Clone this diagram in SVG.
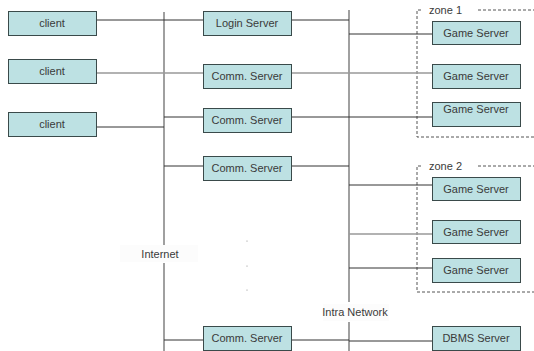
<svg xmlns="http://www.w3.org/2000/svg" width="534" height="351" viewBox="0 0 534 351">
<style>
.box{fill:#bde1e3;stroke:#3a4a4a;stroke-width:1}
.t{font-family:"Liberation Sans",Arial,sans-serif;font-size:11px;fill:#3a3a3a;text-anchor:middle}
.lbl{font-family:"Liberation Sans",Arial,sans-serif;font-size:11px;fill:#3a3a3a}
.d{stroke:#333;stroke-width:1;fill:none}
.g{stroke:#999;stroke-width:1.5;fill:none}
.v{stroke:#a0a0a0;stroke-width:2;fill:none}
.z{stroke:#555;stroke-width:1;stroke-dasharray:3,2;fill:none}
</style>
<rect width="534" height="351" fill="#fff"/>
<g id="zones">
<path class="z" d="M421,10 H417 V137 H534"/>
<path class="z" d="M478,10 H534"/>
<text class="lbl" x="429" y="14">zone 1</text>
<path class="z" d="M421,166 H417 V292 H534"/>
<path class="z" d="M478,166 H534"/>
<text class="lbl" x="429" y="170">zone 2</text>
</g>
<g id="connectors">
<path class="v" d="M164,12 V245 M164,263 V351"/>
<path class="v" d="M349,10 V302 M349,322 V351"/>
<path class="d" d="M96,20 H203 M292,20 H349"/>
<path class="g" d="M96,73 H203 M292,73 H349"/>
<path class="d" d="M96,127 H164"/>
<path class="d" d="M164,117 H203 M292,117 H349"/>
<path class="d" d="M164,166 H203 M292,166 H349"/>
<path class="d" d="M164,340 H203 M292,340 H349"/>
<path class="d" d="M349,34 H432"/>
<path class="g" d="M349,73 H432"/>
<path class="d" d="M349,117 H432"/>
<path class="d" d="M349,185 H432"/>
<path class="g" d="M349,234 H432"/>
<path class="d" d="M349,268 H432"/>
<path class="d" d="M349,341 H432"/>
</g>
<g id="labels">
<rect x="120" y="245" width="78" height="17" fill="#fcfcfc"/>
<text class="t" x="160" y="258">Internet</text>
<rect x="323" y="304" width="66" height="17" fill="#fcfcfc"/>
<text class="t" x="355" y="316">Intra Network</text>
<circle cx="247" cy="241" r="0.6" fill="#888"/>
<circle cx="247" cy="266" r="0.6" fill="#888"/>
<circle cx="247" cy="290" r="0.6" fill="#888"/>
</g>
<g id="client1"><rect class="box" x="8.5" y="11.5" width="88" height="24"/><text class="t" x="52" y="27">client</text></g>
<g id="client2"><rect class="box" x="8.5" y="59.5" width="88" height="24"/><text class="t" x="52" y="75">client</text></g>
<g id="client3"><rect class="box" x="8.5" y="112.5" width="88" height="24"/><text class="t" x="52" y="128">client</text></g>
<g id="login"><rect class="box" x="203.5" y="11.5" width="88" height="24"/><text class="t" x="247" y="27">Login Server</text></g>
<g id="comm1"><rect class="box" x="203.5" y="64.5" width="88" height="24"/><text class="t" x="247" y="80">Comm. Server</text></g>
<g id="comm2"><rect class="box" x="203.5" y="108.5" width="88" height="24"/><text class="t" x="247" y="124">Comm. Server</text></g>
<g id="comm3"><rect class="box" x="203.5" y="156.5" width="88" height="24"/><text class="t" x="247" y="172">Comm. Server</text></g>
<g id="comm4"><rect class="box" x="203.5" y="326.5" width="88" height="24"/><text class="t" x="247" y="342">Comm. Server</text></g>
<g id="game1"><rect class="box" x="432.5" y="21.5" width="88" height="23"/><text class="t" x="476" y="37">Game Server</text></g>
<g id="game2"><rect class="box" x="432.5" y="64.5" width="88" height="24"/><text class="t" x="476" y="80">Game Server</text></g>
<g id="game3"><rect class="box" x="432.5" y="102.5" width="88" height="24"/><text class="t" x="476" y="113">Game Server</text></g>
<g id="game4"><rect class="box" x="432.5" y="177.5" width="88" height="23"/><text class="t" x="476" y="193">Game Server</text></g>
<g id="game5"><rect class="box" x="432.5" y="220.5" width="88" height="23"/><text class="t" x="476" y="236">Game Server</text></g>
<g id="game6"><rect class="box" x="432.5" y="258.5" width="88" height="24"/><text class="t" x="476" y="274">Game Server</text></g>
<g id="dbms"><rect class="box" x="432.5" y="326.5" width="88" height="24"/><text class="t" x="476" y="342">DBMS Server</text></g>
</svg>
